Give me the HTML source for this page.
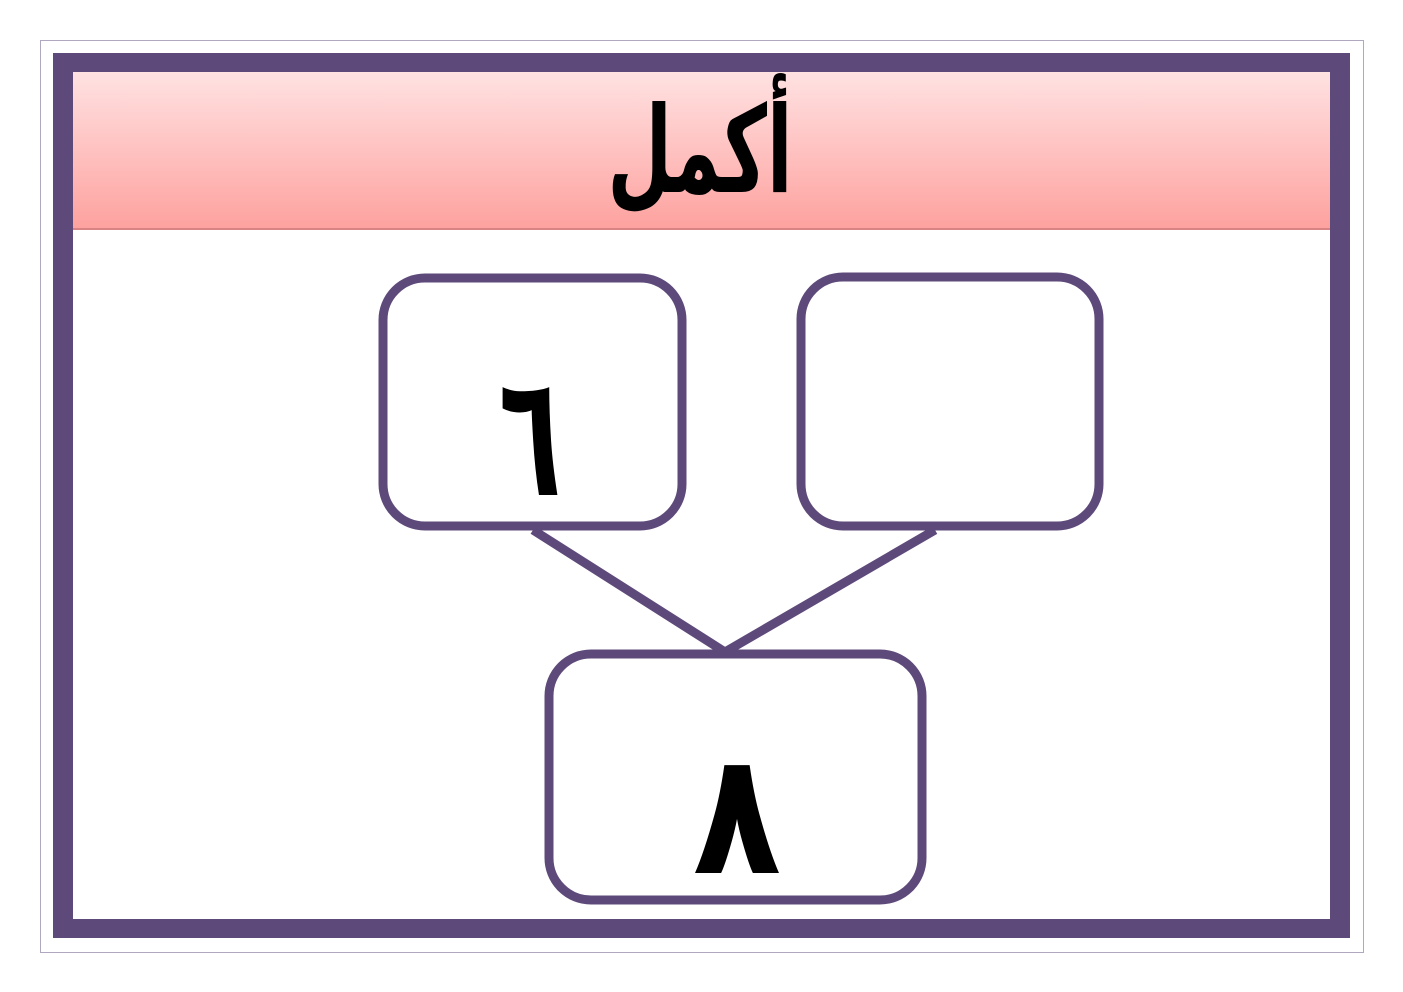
<!DOCTYPE html>
<html><head><meta charset="utf-8"><style>
body{margin:0;width:1403px;height:992px;background:#fff;position:relative;overflow:hidden;font-family:"Liberation Sans","DejaVu Sans",sans-serif}
.abs{position:absolute}
</style></head><body>
<div class="abs" style="left:40px;top:40px;width:1322px;height:911px;border:1px solid #b0a8c0"></div>
<div class="abs" style="left:53px;top:53px;width:1297px;height:885px;background:#5e4a7a"></div>
<div class="abs" style="left:73px;top:72px;width:1257px;height:847px;background:#fff"></div>
<div class="abs" style="left:73px;top:72px;width:1257px;height:156px;background:linear-gradient(#ffe2e2,#fda29f);border-bottom:2px solid #d88484"></div>
<svg class="abs" style="left:0;top:0" width="1403" height="992">
<text x="0" y="0" font-size="120" font-weight="bold" text-anchor="middle" font-family="DejaVu Sans,sans-serif" transform="translate(700,192) scale(0.62,1.0)" direction="rtl">أكمل</text>
<g fill="none" stroke="#5e4a7a" stroke-width="9">
<rect x="383" y="278" width="299" height="248" rx="42"/>
<rect x="801" y="277" width="298" height="249" rx="42"/>
<rect x="549" y="654" width="373" height="246" rx="42"/>
<polyline points="533,530 725,652 935,530"/>
</g>
<text x="0" y="0" font-size="170" font-weight="bold" text-anchor="middle" font-family="DejaVu Sans,sans-serif" transform="translate(530,495) scale(0.6,1)">٦</text>
<text x="0" y="0" font-size="170" font-weight="bold" text-anchor="middle" font-family="DejaVu Sans,sans-serif" transform="translate(737,873) scale(0.85,1)">٨</text>
</svg>
</body></html>
